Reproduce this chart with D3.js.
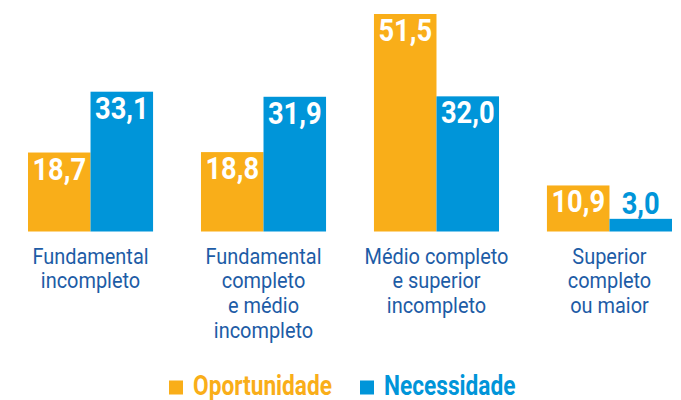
<!DOCTYPE html>
<html><head><meta charset="utf-8">
<script src="https://cdn.jsdelivr.net/npm/d3@7"></script>
<style>body{margin:0;background:#fff}svg{display:block}</style>
</head><body><svg id="c" width="681" height="400"></svg>
<script>
const categories = [
  ["Fundamental","incompleto"],
  ["Fundamental","completo","e médio","incompleto"],
  ["Médio completo","e superior","incompleto"],
  ["Superior","completo","ou maior"]
];
const seriesNames = ["Oportunidade","Necessidade"];
const oportunidade = [18.7, 18.8, 51.5, 10.9];
const necessidade = [33.1, 31.9, 32.0, 3.0];
const valueLabels = [["18,7","33,1"],["18,8","31,9"],["51,5","32,0"],["10,9","3,0"]];
const colors = ["#F9AE19","#0095D9"];
const textBlue = "#1D5CA6";

const svg = d3.select("#c");
const base = 231.5;
const x0 = d3.scaleBand().domain(d3.range(categories.length)).range([28, 672]).paddingInner(0.277).paddingOuter(0);
const x1 = d3.scaleBand().domain(d3.range(seriesNames.length)).range([0, x0.bandwidth()]).padding(0);
const y = d3.scaleLinear().domain([0, d3.max(oportunidade.concat(necessidade))]).range([base, 14]);

const data = [];
categories.forEach((c, i) => {
  [oportunidade[i], necessidade[i]].forEach((v, s) => data.push({i, s, v, label: valueLabels[i][s]}));
});

const g = svg.append("g");
g.selectAll("rect").data(data).join("rect")
  .attr("x", d => x0(d.i) + x1(d.s))
  .attr("y", d => y(d.v))
  .attr("width", x1.bandwidth())
  .attr("height", d => base - y(d.v))
  .attr("fill", d => colors[d.s]);

const sx = 0.88;
g.selectAll("text.val").data(data).join("text")
  .attr("class","val")
  .attr("text-anchor","middle")
  .attr("font-family","Roboto")
  .attr("font-weight","bold")
  .attr("font-size",31)
  .attr("fill", d => (base - y(d.v)) > 32 ? "#fff" : colors[d.s])
  .attr("transform", d => {
    const cx = x0(d.i) + x1(d.s) + x1.bandwidth()/2;
    const h = base - y(d.v);
    const by = h > 32 ? y(d.v) + 27 : y(d.v) - 5;
    return `translate(${cx},${by}) scale(${sx},1)`;
  })
  .text(d => d.label);

// category labels (one text per category, lines as tspans)
categories.forEach((lines, i) => {
  const cx = x0(i) + x0.bandwidth()/2;
  const t = svg.append("text")
    .attr("text-anchor","middle")
    .attr("font-family","Roboto")
    .attr("font-size",21.2)
    .attr("fill",textBlue)
    .attr("transform",`translate(${cx},263.5) scale(0.94,1)`);
  lines.forEach((ln, k) => {
    t.append("tspan").attr("x",0).attr("y", k*25).text(ln);
  });
});

// legend
const legendX = [169, 360];
seriesNames.forEach((n, s) => {
  svg.append("rect").attr("x", legendX[s]).attr("y", 380.5).attr("width", 14).attr("height", 14).attr("fill", colors[s]);
  svg.append("text")
    .attr("font-family","Roboto").attr("font-weight","bold").attr("font-size",28)
    .attr("fill", colors[s])
    .attr("transform",`translate(${legendX[s]+24},394.5) scale(0.81,1)`)
    .text(n);
});
</script></body></html>
